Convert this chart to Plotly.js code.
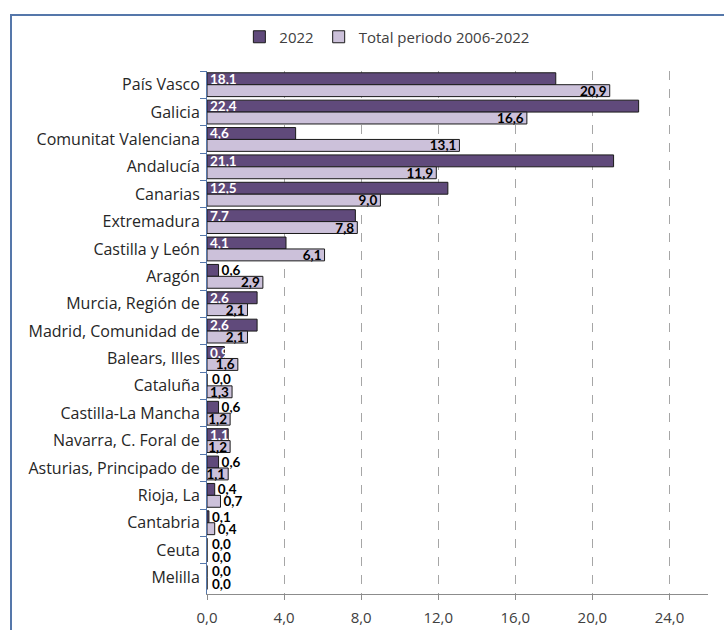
<!DOCTYPE html>
<html>
<head>
<meta charset="utf-8">
<script src="https://cdn.plot.ly/plotly-3.0.1.min.js"></script>
<style>
  html, body { margin: 0; padding: 0; background: #fff; }
  #frame { position: absolute; left: 10px; top: 14px; width: 714px; height: 616px;
           border-left: 2px solid #5577AA; border-top: 2px solid #5577AA; box-sizing: border-box; }
  #chart { position: absolute; left: 0; top: 0; width: 724px; height: 630px; }
</style>
</head>
<body>
<div id="frame"></div>
<div id="chart"></div>
<script>
const categories = ["País Vasco", "Galicia", "Comunitat Valenciana", "Andalucía", "Canarias",
  "Extremadura", "Castilla y León", "Aragón", "Murcia, Región de", "Madrid, Comunidad de",
  "Balears, Illes", "Cataluña", "Castilla-La Mancha", "Navarra, C. Foral de",
  "Asturias, Principado de", "Rioja, La", "Cantabria", "Ceuta", "Melilla"];
const values2022 = [18.1, 22.4, 4.6, 21.1, 12.5, 7.7, 4.1, 0.6, 2.6, 2.6, 0.9, 0.0, 0.6, 1.1, 0.6, 0.4, 0.1, 0.0, 0.0];
const valuesTotal = [20.9, 16.6, 13.1, 11.9, 9.0, 7.8, 6.1, 2.9, 2.1, 2.1, 1.6, 1.3, 1.2, 1.2, 1.1, 0.7, 0.4, 0.0, 0.0];
const seriesNames = ["2022", "Total periodo 2006-2022"];
const xTicks = [0, 4, 8, 12, 16, 20, 24];

const FONT = "'Open Sans', sans-serif";
const VFONT = "Lato, 'Open Sans', sans-serif";
const VSIZE = 13.5;
const fmt = v => v.toFixed(1).replace(".", ",");

function labelsFor(vals) { return vals.map(v => v > 0 ? fmt(v) : ""); }
function positionsFor(vals, minInside) { return vals.map(v => v >= minInside ? "inside" : "outside"); }

const traces = [
  {
    type: "bar", orientation: "h", name: seriesNames[0],
    y: categories, x: values2022,
    marker: { color: "#604A7B", line: { color: "#1a1a1a", width: 1 } },
    text: labelsFor(values2022), texttemplate: "%{text}",
    textposition: positionsFor(values2022, 0.9), insidetextanchor: "start",
    constraintext: "none", cliponaxis: false,
    insidetextfont: { color: "#ffffff", size: VSIZE, family: VFONT, weight: "bold" },
    outsidetextfont: { color: "#000000", size: VSIZE, family: VFONT, weight: "bold" },
    hoverinfo: "x+y"
  },
  {
    type: "bar", orientation: "h", name: seriesNames[1],
    y: categories, x: valuesTotal,
    marker: { color: "#CCC1DA", line: { color: "#1a1a1a", width: 1 } },
    text: labelsFor(valuesTotal), texttemplate: "%{text}",
    textposition: positionsFor(valuesTotal, 1.1), insidetextanchor: "end",
    constraintext: "none", cliponaxis: false,
    insidetextfont: { color: "#000000", size: VSIZE, family: VFONT, weight: "bold" },
    outsidetextfont: { color: "#000000", size: VSIZE, family: VFONT, weight: "bold" },
    hoverinfo: "x+y"
  }
];

// labels for zero-length bars (Plotly does not draw text on empty bars)
const annotations = [];
[values2022, valuesTotal].forEach((vals, si) => {
  vals.forEach((v, i) => {
    if (v === 0) {
      annotations.push({
        x: v, y: categories[i], xref: "x", yref: "y",
        text: fmt(v), showarrow: false, xanchor: "left", yanchor: "middle",
        xshift: 3, yshift: si === 0 ? 6.5 : -6.5,
        font: { family: VFONT, size: VSIZE, color: "#000000", weight: "bold" }
      });
    }
  });
});

const layout = {
  width: 724, height: 630,
  margin: { l: 207, r: 16, t: 71, b: 36 },
  paper_bgcolor: "rgba(0,0,0,0)", plot_bgcolor: "rgba(0,0,0,0)",
  font: { family: FONT, size: 14, color: "#262626" },
  separators: ",.",
  barmode: "group", bargap: 0.13, bargroupgap: 0,
  showlegend: true,
  legend: { orientation: "h", x: 0.36, xanchor: "center", y: 1.065, yanchor: "middle",
            font: { size: 15, color: "#404040", family: FONT }, bgcolor: "rgba(0,0,0,0)",
            itemwidth: 30, traceorder: "normal" },
  annotations: annotations,
  xaxis: {
    range: [0, 26], tickvals: xTicks, tickformat: ".1f",
    showgrid: true, gridcolor: "#A6A6A6", griddash: "dash", gridwidth: 1,
    showline: true, linecolor: "#8C8C8C", linewidth: 1,
    ticks: "outside", ticklen: 5, tickcolor: "#8C8C8C",
    zeroline: false, tickfont: { size: 15, color: "#404040", family: FONT },
    ticklabelstandoff: 5, fixedrange: true
  },
  yaxis: {
    type: "category", autorange: "reversed",
    showline: true, linecolor: "#5577AA", linewidth: 1,
    ticks: "outside", ticklen: 6, tickcolor: "#5577AA", tickson: "boundaries",
    showgrid: false, tickfont: { size: 16, color: "#262626", family: FONT },
    ticklabelstandoff: 3, fixedrange: true
  }
};

Plotly.newPlot("chart", traces, layout, { displayModeBar: false, staticPlot: true });
</script>
</body>
</html>
